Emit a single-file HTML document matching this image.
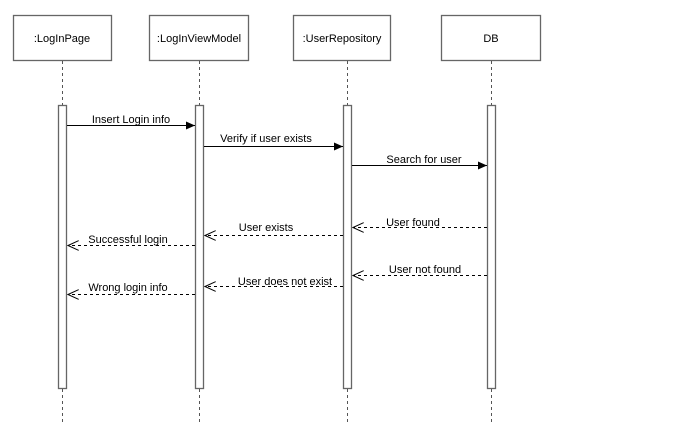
<!DOCTYPE html>
<html><head><style>body{margin:0;background:#fff}svg{display:block}</style></head><body>
<svg width="699" height="446" xmlns="http://www.w3.org/2000/svg" font-family="Liberation Sans, Arial, sans-serif" font-size="11">
<defs>
<marker id="f" markerWidth="10" markerHeight="8" refX="9" refY="4" orient="auto" markerUnits="userSpaceOnUse"><path d="M0,0 L9,4 L0,8 Z" fill="#000"/></marker>
<marker id="o" markerWidth="12" markerHeight="10" refX="11" refY="5" orient="auto" markerUnits="userSpaceOnUse"><path d="M0,0 L11,5 L0,10" fill="none" stroke="#000"/></marker>
</defs>
<g stroke="#666" stroke-width="1.3" fill="#fff">
<rect x="13.5" y="15.5" width="98" height="45"/>
<rect x="149.5" y="15.5" width="99" height="45"/>
<rect x="293.5" y="15.5" width="97" height="45"/>
<rect x="441.5" y="15.5" width="99" height="45"/>
</g>
<g stroke="#555" stroke-dasharray="3,3">
<line x1="62.5" y1="61" x2="62.5" y2="105"/><line x1="62.5" y1="389" x2="62.5" y2="425"/>
<line x1="199.5" y1="61" x2="199.5" y2="105"/><line x1="199.5" y1="389" x2="199.5" y2="425"/>
<line x1="347.5" y1="61" x2="347.5" y2="105"/><line x1="347.5" y1="389" x2="347.5" y2="425"/>
<line x1="491.5" y1="61" x2="491.5" y2="105"/><line x1="491.5" y1="389" x2="491.5" y2="425"/>
</g>
<g stroke="#666" stroke-width="1.3" fill="#fff">
<rect x="58.5" y="105.5" width="8" height="283"/>
<rect x="195.5" y="105.5" width="8" height="283"/>
<rect x="343.5" y="105.5" width="8" height="283"/>
<rect x="487.5" y="105.5" width="8" height="283"/>
</g>
<g text-anchor="middle" fill="#000">
<text x="62" y="42">:LogInPage</text>
<text x="199" y="42">:LogInViewModel</text>
<text x="342" y="42">:UserRepository</text>
<text x="491" y="42">DB</text>
</g>
<g stroke="#000" fill="none">
<line x1="67" y1="125.5" x2="195" y2="125.5" marker-end="url(#f)"/>
<line x1="204" y1="146.5" x2="343" y2="146.5" marker-end="url(#f)"/>
<line x1="352" y1="165.5" x2="487" y2="165.5" marker-end="url(#f)"/>
<g stroke-dasharray="3,3">
<line x1="487" y1="227.5" x2="353" y2="227.5" marker-end="url(#o)"/>
<line x1="343" y1="235.5" x2="205" y2="235.5" marker-end="url(#o)"/>
<line x1="195" y1="245.5" x2="68" y2="245.5" marker-end="url(#o)"/>
<line x1="487" y1="275.5" x2="353" y2="275.5" marker-end="url(#o)"/>
<line x1="343" y1="286.5" x2="205" y2="286.5" marker-end="url(#o)"/>
<line x1="195" y1="294.5" x2="68" y2="294.5" marker-end="url(#o)"/>
</g>
</g>
<g text-anchor="middle" fill="#000">
<text x="131" y="123">Insert Login info</text>
<text x="266" y="142">Verify if user exists</text>
<text x="424" y="163">Search for user</text>
<text x="413" y="226">User found</text>
<text x="266" y="231">User exists</text>
<text x="128" y="243">Successful login</text>
<text x="425" y="273">User not found</text>
<text x="285" y="285">User does not exist</text>
<text x="128" y="291">Wrong login info</text>
</g>
</svg>
</body></html>
